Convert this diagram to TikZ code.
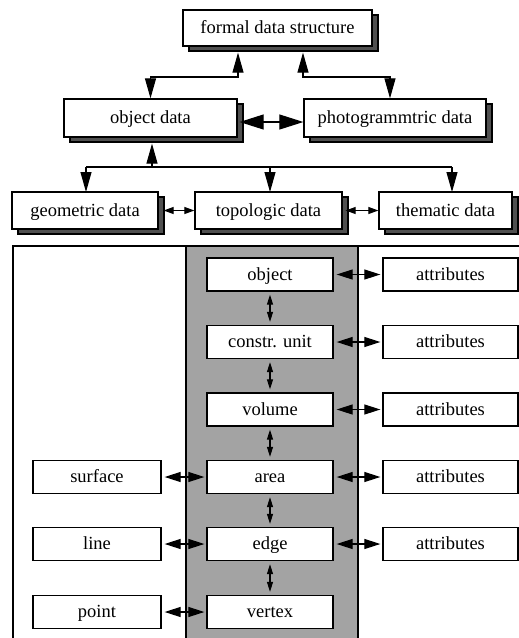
\documentclass[tikz,border=0pt]{standalone}
\usepackage{fontspec}
\setmainfont{Liberation Serif}
\usetikzlibrary{arrows.meta,shadows}
\definecolor{colgray}{RGB}{163,163,163}
\definecolor{shadgray}{RGB}{80,80,80}
\begin{document}
\begin{tikzpicture}[x=1pt,y=-1pt,
  box/.style={draw, line width=1.3pt, fill=white, inner sep=0pt, text height=14pt, text depth=3pt, font=\fontsize{18.5}{20}\selectfont},
  shbox/.style={box, drop shadow={shadow xshift=6pt, shadow yshift=-5pt, fill=shadgray, draw=black, opacity=1}},
  conn/.style={line width=1.1pt},
  bigtip/.style={conn, {Triangle[length=20pt,width=11pt]}-{Triangle[length=20pt,width=11pt]}},
  midtip/.style={conn, {Triangle[length=24pt,width=15pt]}-{Triangle[length=24pt,width=15pt]}},
  smalltip/.style={conn, {Triangle[length=10pt,width=7pt]}-{Triangle[length=10pt,width=7pt]}},
  vtip/.style={conn, {Triangle[length=10pt,width=6pt]}-{Triangle[length=10pt,width=6pt]}, shorten <=3pt, shorten >=3pt},
  htip/.style={conn, {Triangle[length=16pt,width=10pt]}-{Triangle[length=16pt,width=10pt]}, shorten <=3pt, shorten >=2pt},
  downtip/.style={conn, -{Triangle[length=20pt,width=11pt]}}
]
\useasboundingbox (0,0) rectangle (519,638);
\clip (0,0) rectangle (519,638);

% frame and gray column
\draw[line width=1.2pt] (13,650) -- (13,246) -- (530,246);
\filldraw[fill=colgray, draw=black, line width=1.2pt] (186,650) rectangle (358,246);

% top level
\node[shbox, minimum width=189pt, minimum height=36pt] (fds) at (277.5,28) {formal data structure};
\node[shbox, minimum width=173pt, minimum height=38pt] (obj) at (150.5,118) {object data};
\node[shbox, minimum width=182pt, minimum height=38pt] (pho) at (395,118) {photogrammtric data};
\node[shbox, minimum width=146pt, minimum height=37pt] (geo) at (85,210.5) {geometric data};
\node[shbox, minimum width=147pt, minimum height=37pt] (top) at (268.5,210.5) {topologic data};
\node[shbox, minimum width=133pt, minimum height=37pt] (the) at (445.5,210.5) {thematic data};

\coordinate (j1) at (238,77);
\coordinate (j2) at (303,77);
\coordinate (j3) at (152,167);
\coordinate (fb) at ([yshift=-6pt]fds.south);
\coordinate (ob) at ([yshift=-6pt]obj.south);

\draw[bigtip] (fb -| j1) -- (j1) -| (obj.north);
\draw[bigtip] (fb -| j2) -- (j2) -| ([xshift=-5pt]pho.north);
\draw[midtip] ([xshift=2pt,yshift=-4pt]obj.east) -- ([yshift=-4pt]pho.west);

\draw[conn, {Triangle[length=20pt,width=11pt]}-] (ob -| j3) -- (j3);
\draw[conn] (j3 -| geo.north) ++(1,0) -- (452,167);
\draw[downtip] (86,167) -- (86,192);
\draw[downtip] (270,167) -- (270,192);
\draw[downtip] (452,167) -- (452,192);

\draw[smalltip] ([xshift=5pt]geo.east) -- (top.west);
\draw[smalltip] ([xshift=3pt]top.east) -- (the.west);

% inner boxes
\node[box, minimum width=126pt, minimum height=33pt] (o2) at (270,274.5) {object};
\node[box, minimum width=126pt, minimum height=33pt] (cu) at (270,342) {constr. unit};
\node[box, minimum width=126pt, minimum height=33pt] (vo) at (270,409.5) {volume};
\node[box, minimum width=126pt, minimum height=33pt] (ar) at (270,477) {area};
\node[box, minimum width=126pt, minimum height=33pt] (ed) at (270,544) {edge};
\node[box, minimum width=126pt, minimum height=33pt] (ve) at (270,612) {vertex};

\node[box, minimum width=135pt, minimum height=33pt] (a1) at (450.5,274.5) {attributes};
\node[box, minimum width=135pt, minimum height=33pt] (a2) at (450.5,342) {attributes};
\node[box, minimum width=135pt, minimum height=33pt] (a3) at (450.5,409.5) {attributes};
\node[box, minimum width=135pt, minimum height=33pt] (a4) at (450.5,477) {attributes};
\node[box, minimum width=135pt, minimum height=33pt] (a5) at (450.5,544) {attributes};

\node[box, minimum width=128pt, minimum height=33pt] (su) at (97,477) {surface};
\node[box, minimum width=128pt, minimum height=33pt] (li) at (97,544) {line};
\node[box, minimum width=128pt, minimum height=33pt] (pt) at (97,612) {point};

\draw[vtip] (o2.south) -- (cu.north);
\draw[vtip] (cu.south) -- (vo.north);
\draw[vtip] (vo.south) -- (ar.north);
\draw[vtip] (ar.south) -- (ed.north);
\draw[vtip] (ed.south) -- (ve.north);

\draw[htip] (o2.east) -- (a1.west);
\draw[htip] (cu.east) -- (a2.west);
\draw[htip] (vo.east) -- (a3.west);
\draw[htip] (ar.east) -- (a4.west);
\draw[htip] (ed.east) -- (a5.west);

\draw[htip] (su.east) -- (ar.west);
\draw[htip] (li.east) -- (ed.west);
\draw[htip] (pt.east) -- (ve.west);
\end{tikzpicture}
\end{document}
